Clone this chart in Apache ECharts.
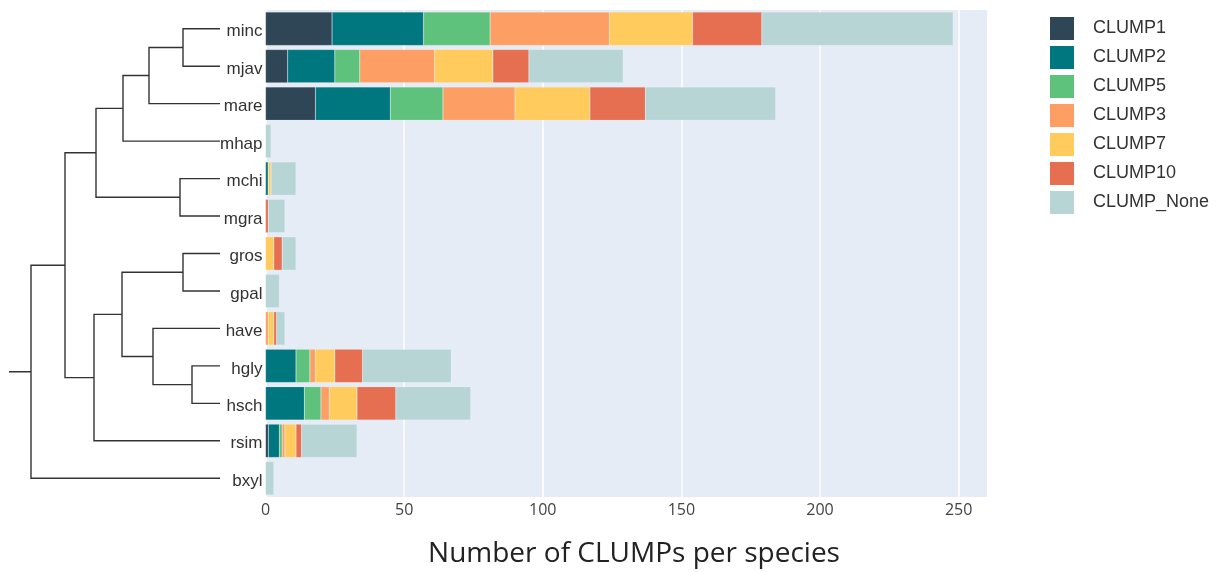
<!DOCTYPE html>
<html>
<head>
<meta charset="utf-8">
<script src="https://cdn.jsdelivr.net/npm/echarts@6/dist/echarts.min.js"></script>
<style>
  html, body { margin: 0; padding: 0; background: #ffffff; }
  #chart { width: 1218px; height: 572px; }
</style>
</head>
<body>
<div id="chart"></div>
<script>
// Species, top to bottom, in dendrogram leaf order
const species = ['minc', 'mjav', 'mare', 'mhap', 'mchi', 'mgra', 'gros', 'gpal', 'have', 'hgly', 'hsch', 'rsim', 'bxyl'];

// CLUMP counts per species (same order as species)
const clump1    = [24,  8, 18, 0, 0, 0, 0, 0, 0,  0,  0,  1, 0];
const clump2    = [33, 17, 27, 0, 1, 0, 0, 0, 0, 11, 14,  4, 0];
const clump5    = [24,  9, 19, 0, 0, 0, 0, 0, 0,  5,  6,  1, 0];
const clump3    = [43, 27, 26, 0, 0, 0, 0, 0, 1,  2,  3,  1, 0];
const clump7    = [30, 21, 27, 0, 1, 0, 3, 0, 2,  7, 10,  4, 0];
const clump10   = [25, 13, 20, 0, 0, 1, 3, 0, 1, 10, 14,  2, 0];
const clumpNone = [69, 34, 47, 2, 9, 6, 5, 5, 3, 32, 27, 20, 3];

const seriesNames  = ['CLUMP1', 'CLUMP2', 'CLUMP5', 'CLUMP3', 'CLUMP7', 'CLUMP10', 'CLUMP_None'];
const seriesValues = [clump1, clump2, clump5, clump3, clump7, clump10, clumpNone];
const seriesColors = ['#2f4656', '#00767f', '#5fc27c', '#fd9f65', '#fecb5c', '#e66f51', '#b7d5d5'];

const xTicks = [0, 50, 100, 150, 200, 250];

// Dendrogram: [mergeHeight, left, right]; leaves are species names
const tree = [189,
  [155,
    [124,
      [97, [71, [37, 'minc', 'mjav'], 'mare'], 'mhap'],
      [40, 'mchi', 'mgra']],
    [126,
      [98, [37, 'gros', 'gpal'], [67, 'have', [28, 'hgly', 'hsch']]],
      'rsim']],
  'bxyl'];
const rootStubHeight = 211;

// Walk the tree: leaves sit at their row index, inner nodes at the midpoint of their children
const treeSegments = [];
function layout(node) {
  if (typeof node === 'string') return { h: 0, y: species.indexOf(node) };
  const a = layout(node[1]);
  const b = layout(node[2]);
  const h = node[0];
  treeSegments.push({ coords: [[a.h, a.y], [h, a.y], [h, b.y], [b.h, b.y]] });
  return { h: h, y: (a.y + b.y) / 2 };
}
const root = layout(tree);
treeSegments.push({ coords: [[root.h, root.y], [rootStubHeight, root.y]] });

const plotTop = 10, plotBottom = 75;

const chart = echarts.init(document.getElementById('chart'), null, { renderer: 'canvas' });

chart.setOption({
  animation: false,
  backgroundColor: '#ffffff',
  textStyle: { fontFamily: 'Liberation Sans' },
  grid: [
    { left: 265.5, right: 230.5, top: plotTop, bottom: plotBottom, backgroundColor: '#e5ecf6', show: true, borderWidth: 0 },
    { left: 9, width: 211, top: plotTop, bottom: plotBottom, show: false }
  ],
  legend: {
    orient: 'vertical',
    left: 1045,
    top: 12,
    itemWidth: 24,
    itemHeight: 23,
    itemGap: 6,
    icon: 'rect',
    data: seriesNames,
    selectedMode: false,
    itemStyle: { borderWidth: 0 },
    textStyle: { fontSize: 18, color: '#333333', fontFamily: 'Liberation Sans', padding: [0, 0, 0, 14] }
  },
  xAxis: [
    {
      type: 'value',
      gridIndex: 0,
      min: 0,
      max: 260.4,
      interval: 50,
      axisLine: { show: false },
      axisTick: { show: false },
      splitLine: { show: true, lineStyle: { color: '#ffffff', width: 1.5 } },
      axisLabel: {
        showMaxLabel: false,
        fontFamily: 'Open Sans',
        fontSize: 16,
        color: '#444444',
        margin: 5,
        formatter: function (v) { return xTicks.indexOf(v) >= 0 ? String(v) : ''; }
      }
    },
    {
      type: 'value',
      gridIndex: 1,
      min: 0,
      max: rootStubHeight,
      inverse: true,
      show: false
    }
  ],
  yAxis: [
    {
      type: 'category',
      gridIndex: 0,
      data: species,
      inverse: true,
      axisLine: { show: false },
      axisTick: { show: false },
      splitLine: { show: false },
      axisLabel: {
        margin: 3,
        formatter: function (v) { return '{sp|' + v + '}'; },
        rich: {
          sp: { fontFamily: 'Liberation Sans', fontSize: 17, color: '#333333', padding: [6, 0, 0, 0] }
        }
      }
    },
    {
      type: 'value',
      gridIndex: 1,
      min: -0.5,
      max: species.length - 0.5,
      inverse: true,
      show: false
    }
  ],
  graphic: [
    {
      type: 'text',
      x: 634,
      y: 554,
      style: {
        text: 'Number of CLUMPs per species',
        align: 'center',
        verticalAlign: 'middle',
        fontFamily: 'Open Sans',
        fontSize: 28,
        fill: '#222222'
      }
    }
  ],
  series: seriesNames.map(function (name, i) {
    return {
      name: name,
      type: 'bar',
      stack: 'clumps',
      xAxisIndex: 0,
      yAxisIndex: 0,
      barCategoryGap: '11%',
      data: seriesValues[i],
      itemStyle: { color: seriesColors[i], borderColor: 'rgba(255,255,255,0.3)', borderWidth: 0.5 }
    };
  }).concat([{
    type: 'lines',
    coordinateSystem: 'cartesian2d',
    xAxisIndex: 1,
    yAxisIndex: 1,
    polyline: true,
    silent: true,
    lineStyle: { color: '#333333', width: 1.4, opacity: 1 },
    data: treeSegments
  }])
});
</script>
</body>
</html>
